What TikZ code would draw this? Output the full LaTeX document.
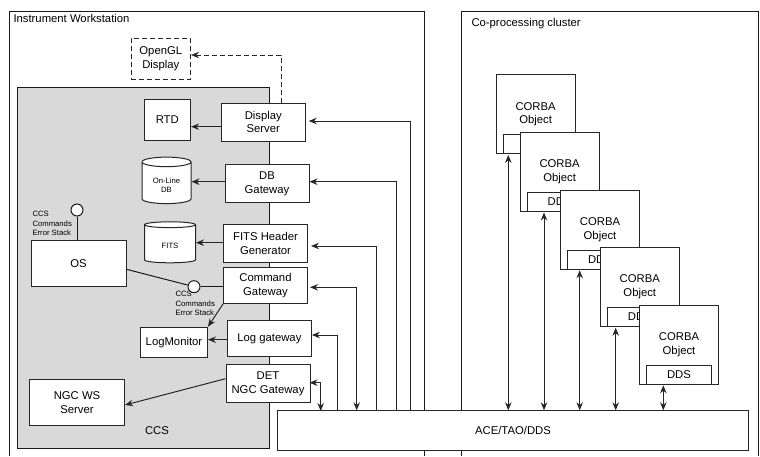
\documentclass[tikz,border=0pt]{standalone}
\usepackage{fontspec}
\setmainfont{Liberation Sans}
\usepackage{tikz}
\usetikzlibrary{arrows.meta,shapes.geometric}
\definecolor{ccsgray}{RGB}{217,217,217}
\tikzset{
  diag/.style={x=1pt, y=-1pt, >={Stealth[length=8pt,width=6.5pt]}, line width=1pt, every node/.style={font=\fontsize{11.3}{13.8}\selectfont, align=center, inner sep=0pt}},
  frm/.style={draw=black!90},
  bx/.style={draw=black!85, fill=white},
  gw/.style={bx, minimum width=84pt},
  obj/.style={bx, minimum width=79pt, minimum height=79pt},
  ddsbx/.style={bx, minimum width=65pt, minimum height=19pt, anchor=south},
  tub/.style={bx, cylinder, shape border rotate=90, aspect=0.35, cylinder uses custom fill, cylinder body fill=white, cylinder end fill=white, font=\fontsize{7.7}{9.6}\selectfont},
  lolly/.style={circle, draw=black!90, fill=white, minimum size=12pt},
  smalltxt/.style={font=\fontsize{7.7}{9.3}\selectfont, align=left, anchor=north west},
  hostlabel/.style={anchor=west},
  link/.style={->, draw=black!85},
  bus/.style={<->, draw=black!85},
  dash5/.style={dash pattern=on 5pt off 3pt}
}
\begin{document}
\begin{tikzpicture}[diag]
\useasboundingbox (0,0) rectangle (760,456);
% hosts
\draw[frm] (9.5,456) |- (424,11) -- (424,456);
\draw[frm] (461,456) |- (758,11) -- (758,456);
\node[hostlabel] (wslabel) at (13,18) {Instrument Workstation};
\node[hostlabel] (cplabel) at (471,24) {Co-processing cluster};
\node[frm, fill=ccsgray, minimum width=252pt, minimum height=361pt] (ccs) at (143.5,267.5) {};
\node (ccslabel) at (157,431) {CCS};
% workstation side
\node[bx, dash5, minimum width=59.5pt, minimum height=41pt] (ogl) at (160.8,58.5) {OpenGL\\Display};
\node[bx, minimum width=46.5pt, minimum height=41pt] (rtd) at (167.3,119.5) {RTD};
\node[gw, minimum height=38pt] (disp) at (263.3,122) {Display\\Server};
\node[gw, minimum height=38pt] (dbgw) at (267,183.7) {DB\\Gateway};
\node[gw, minimum height=38pt] (fitsgw) at (265.5,243.7) {FITS Header\\Generator};
\node[gw, minimum height=36pt] (cmdgw) at (265.5,285.5) {Command\\Gateway};
\node[gw, minimum height=36pt] (loggw) at (269.4,338.5) {Log gateway};
\node[gw, minimum height=38pt] (detgw) at (268,383.7) {DET\\NGC Gateway};
\node[tub, minimum width=49pt, minimum height=46.5pt] (oldb) at (166.5,183) {\mbox{}\\On-Line\\DB};
\node[tub, minimum width=51pt, minimum height=41pt] (fitsdb) at (170,244) {\mbox{}\\FITS};
\node[bx, minimum width=95pt, minimum height=46pt] (os) at (78.5,263.3) {OS};
\node[bx, minimum width=67pt, minimum height=30pt] (logmon) at (174,342.2) {LogMonitor};
\node[bx, minimum width=95pt, minimum height=46pt] (ngc) at (77,402.3) {NGC WS\\Server};
\node[lolly] (ospin) at (77,210) {};
\node[lolly] (cmdpin) at (194,286.7) {};
\node[smalltxt] (ostxt) at (32,211) {CCS\\Commands\\Error Stack};
\node[smalltxt] (cmdtxt) at (175,291) {CCS\\Commands\\Error Stack};
\draw[frm] (ospin) -- (ospin |- os.north);
\draw[frm] (os.east) ++(0,6) -- (cmdpin);
\draw[frm] (cmdpin) -- (cmdgw.west |- cmdpin);
% local calls
\draw[link] (disp.west |- 0,126.7) -- (rtd.east |- 0,126.7);
\draw[link] (dbgw.west |- 0,181.7) -- (oldb.east |- 0,181.7);
\draw[link] (fitsgw.west |- 0,242.7) -- (fitsdb.east |- 0,242.7);
\draw[link] (loggw.west |- 0,339.7) -- (logmon.east |- 0,339.7);
\draw[link] (cmdgw.south west) -- (logmon.north east);
\draw[link] (detgw.west |- 0,378.7) -- (ngc.east |- 0,405);
\draw[link, dash5] (281,103) |- (ogl.east |- 0,55);
% middleware
\node[bx, minimum width=471pt, minimum height=40.7pt] (ace) at (513,430.6) {ACE/TAO/DDS};
\foreach \i/\xo/\yo in {1/535.6/114.2, 2/559.6/171.8, 3/600/229.6, 4/639.8/287, 5/679/344.6} {
  \node[obj] (corba\i) at (\xo,\yo) {CORBA\\Object};
  \node[ddsbx] (dds\i) at (corba\i.south) {DDS};
}
\foreach \i/\bx in {1/508.3, 2/544, 3/579.7, 4/615.7, 5/663.3} {
  \coordinate (bus\i) at (\bx,410.3);
  \draw[bus] (bus\i) -- ([yshift=-0.7pt]bus\i |- corba\i.south);
}
% gateways to the bus
\coordinate (bdisp) at (410,410.3);
\coordinate (bdb) at (396,410.3);
\coordinate (bfits) at (376.7,410.3);
\coordinate (bcmd) at (356.7,410.3);
\coordinate (blog) at (337.3,410.3);
\coordinate (bdet) at (320.7,411);
\draw[link, shorten >=3pt] (bdisp) |- (disp.east |- 0,121);
\draw[link] (bdb) |- (dbgw.east |- 0,181.7);
\draw[link, shorten >=3pt] (bfits) |- (fitsgw.east |- 0,246);
\draw[bus, shorten >=2pt] (bcmd) |- (cmdgw.east |- 0,287.3);
\draw[link] (blog) |- (loggw.east |- 0,335);
\draw[bus, shorten >=-1pt] (bdet) |- (detgw.east |- 0,382.7);
\end{tikzpicture}
\end{document}
